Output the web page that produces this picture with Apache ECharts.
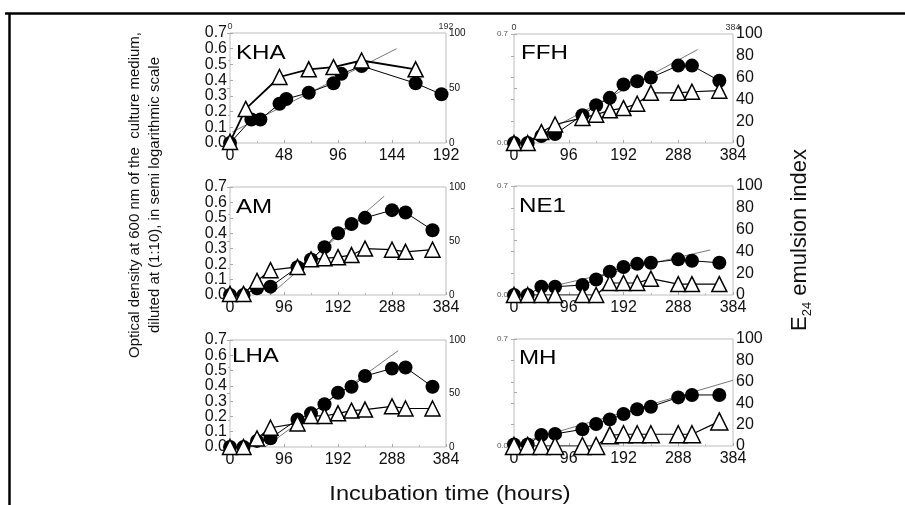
<!DOCTYPE html>
<html lang="en">
<head>
    <meta charset="UTF-8">
    <title>Growth and E24 emulsion index</title>
    <style>
        html, body {margin: 0; padding: 0; background: #fff;}
        #chart {width: 905px; height: 505px;}
    </style>
</head>
<body>
<div id="chart"></div>
<script src="https://cdn.jsdelivr.net/npm/echarts@6/dist/echarts.min.js"></script>
<script>
    // sampling times (hours)
    let hours = [0, 24, 48, 72, 120, 144, 168, 192, 216, 240, 288, 312, 360];

    // KHA has its own time points (0-192 h axis)
    let khaOdHours = [0, 19, 27, 44, 50, 70, 92, 99, 117, 165, 188];
    let khaOd = [0.0, 0.15, 0.15, 0.25, 0.28, 0.32, 0.38, 0.44, 0.49, 0.38, 0.31];
    let khaE24Hours = [0, 14, 44, 70, 92, 117, 165];
    let khaE24 = [1, 31, 60, 67, 69, 75, 67];
    let khaFit = [[2, 0.07], [148, 0.60]];

    let ffhOd = [0, 0, 0.045, 0.057, 0.178, 0.242, 0.29, 0.376, 0.397, 0.42, 0.497, 0.497, 0.40];
    let ffhE24 = [0, 0, 10, 17, 23, 26, 30, 32, 36, 46, 46, 47, 48];
    let ffhFit = [[70, 0.10], [322, 0.60]];

    let amOd = [0, 0, 0.043, 0.054, 0.18, 0.23, 0.31, 0.40, 0.46, 0.50, 0.55, 0.535, 0.42];
    let amE24 = [1, 1, 13, 23, 26, 33, 34, 35, 37, 43, 42, 40, 42];
    let amFit = [[71, 0.0], [274, 0.64]];

    let ne1Od = [0, 0, 0.053, 0.053, 0.064, 0.10, 0.15, 0.18, 0.20, 0.207, 0.229, 0.22, 0.207];
    let ne1E24 = [0, 0, 0, 0, 0, 0, 11, 11, 11, 15, 10, 10, 10];
    let ne1Fit = [[69, 0.058], [344, 0.289]];

    let lhaOd = [0, 0, 0.04, 0.057, 0.18, 0.22, 0.28, 0.355, 0.394, 0.464, 0.514, 0.52, 0.394];
    let lhaE24 = [0, 0, 8, 18, 22, 29, 29, 31.5, 34, 35, 38, 36, 36];
    let lhaFit = [[62, 0.0], [299, 0.63]];

    let mhOd = [0.01, 0.01, 0.072, 0.079, 0.109, 0.144, 0.174, 0.209, 0.24, 0.257, 0.318, 0.334, 0.334];
    let mhE24 = [0, 0, 0, 0, 0, 0, 10, 11, 11, 11, 11, 11, 23];
    let mhFit = [[28, 0.04], [384, 0.43]];

    // axis ranges and tick labels
    let odTicks = [0, 0.7];
    let e24Ticks = [0, 100];
    let odLabels = ['0.0', '0.1', '0.2', '0.3', '0.4', '0.5', '0.6', '0.7'];

    let FONT = '"Liberation Sans", Arial, sans-serif';

    let panels = [
        {name: 'KHA', box: [230, 33, 216, 110], xMax: 192, xStep: 48, col: 0, topLabels: true, tri: 15,
            odH: khaOdHours, od: khaOd, e24H: khaE24Hours, e24: khaE24, fit: khaFit, label: [236, 53]},
        {name: 'FFH', box: [514, 34, 219, 109], xMax: 384, xStep: 96, col: 1, topLabels: true, tri: 15,
            odH: hours, od: ffhOd, e24H: hours, e24: ffhE24, fit: ffhFit, label: [521, 53]},
        {name: 'AM', box: [230, 187, 216, 108], xMax: 384, xStep: 96, col: 0, topLabels: false, tri: 15,
            odH: hours, od: amOd, e24H: hours, e24: amE24, fit: amFit, label: [236, 207]},
        {name: 'NE1', box: [514, 186, 219, 109], xMax: 384, xStep: 96, col: 1, topLabels: false, tri: 15,
            odH: hours, od: ne1Od, e24H: hours, e24: ne1E24, fit: ne1Fit, label: [519, 206]},
        {name: 'LHA', box: [230, 340, 216, 107], xMax: 384, xStep: 96, col: 0, topLabels: false, tri: 15,
            odH: hours, od: lhaOd, e24H: hours, e24: lhaE24, fit: lhaFit, label: [232, 356]},
        {name: 'MH', box: [514, 339, 219, 107], xMax: 384, xStep: 96, col: 1, topLabels: false, tri: 17,
            odH: hours, od: mhOd, e24H: hours, e24: mhE24, fit: mhFit, label: [519, 358]}
    ];

    let grid = [], xAxis = [], yAxis = [], series = [], graphic = [];

    panels.forEach(function (p, i) {
        grid.push({
            left: p.box[0], top: p.box[1], width: p.box[2], height: p.box[3],
            show: true, borderColor: '#bdbdbd', borderWidth: 1, backgroundColor: 'transparent'
        });

        // bottom time axis
        xAxis.push({
            type: 'value', gridIndex: i, min: 0, max: p.xMax, interval: p.xStep,
            axisLine: {show: false}, splitLine: {show: false},
            axisTick: {show: true, inside: true, length: 3, lineStyle: {color: '#aaa'}},
            minorTick: {show: true, splitNumber: 2, length: 2, lineStyle: {color: '#bbb'}},
            axisLabel: {fontSize: 16, color: '#111', fontFamily: FONT, margin: 5, showMinLabel: true, showMaxLabel: true}
        });
        // top axis, only end labels on the first row
        xAxis.push({
            type: 'value', gridIndex: i, position: 'top', min: 0, max: p.xMax, interval: p.xMax,
            axisLine: {show: false}, splitLine: {show: false}, axisTick: {show: false},
            axisLabel: {show: p.topLabels, fontSize: 9, color: '#333', fontFamily: FONT, margin: 2}
        });

        let big = p.col === 0;
        // optical density axis (left); big labels come from the category axis below
        yAxis.push({
            type: 'value', gridIndex: i, min: odTicks[0], max: odTicks[1], interval: big ? 0.1 : 0.35,
            axisLine: {show: false}, splitLine: {show: false},
            axisTick: {show: true, inside: true, length: 3, lineStyle: {color: '#aaa'}},
            axisLabel: {
                show: !big, fontSize: 8, color: '#555', fontFamily: FONT, margin: 6,
                showMinLabel: true, showMaxLabel: true,
                formatter: function (v) {
                    if (v > 0.01 && v < 0.69) return '';
                    return v.toFixed(1);
                }
            }
        });
        // E24 axis (right)
        yAxis.push({
            type: 'value', gridIndex: i, position: 'right', min: e24Ticks[0], max: e24Ticks[1], interval: big ? 50 : 20,
            axisLine: {show: false}, splitLine: {show: false},
            axisTick: {show: true, inside: true, length: 3, lineStyle: {color: '#aaa'}},
            minorTick: {show: big, splitNumber: 2, length: 2, lineStyle: {color: '#bbb'}},
            axisLabel: {fontSize: big ? 10 : 16, color: '#111', fontFamily: FONT, margin: 3, showMinLabel: true, showMaxLabel: true}
        });
        // label-only axis so that all 0.0 ... 0.7 labels stay visible
        yAxis.push({
            type: 'category', gridIndex: i, position: 'left', data: odLabels, boundaryGap: false,
            show: big, axisLine: {show: false}, axisTick: {show: false}, splitLine: {show: false},
            axisLabel: {interval: 0, fontSize: 16, color: '#111', fontFamily: FONT, margin: 3}
        });

        let xi = i * 2, yi = i * 3;
        // straight fit line
        series.push({
            type: 'line', xAxisIndex: xi, yAxisIndex: yi, data: p.fit,
            symbol: 'none', silent: true,
            lineStyle: {color: '#555', width: 0.8}
        });
        // optical density, filled circles
        series.push({
            type: 'line', xAxisIndex: xi, yAxisIndex: yi,
            data: p.odH.map(function (h, k) { return [h, p.od[k]]; }),
            symbol: 'circle', symbolSize: 14,
            itemStyle: {color: '#000'},
            lineStyle: {color: '#000', width: 1}
        });
        // E24, open triangles
        series.push({
            type: 'line', xAxisIndex: xi, yAxisIndex: yi + 1,
            data: p.e24H.map(function (h, k) { return [h, p.e24[k]]; }),
            symbol: 'triangle', symbolSize: p.tri,
            itemStyle: {color: '#fff', borderColor: '#000', borderWidth: 1.5},
            lineStyle: {color: '#000', width: i === 0 ? 1.8 : 1.2}
        });

        graphic.push({
            type: 'text', x: p.label[0], y: p.label[1], scaleX: 1.15,
            style: {text: p.name, font: '21px ' + FONT, fill: '#000', align: 'left', verticalAlign: 'middle'}
        });
    });

    // frame
    graphic.push({type: 'line', shape: {x1: 5, y1: 13.5, x2: 905, y2: 13.5}, style: {stroke: '#000', lineWidth: 2.5}});
    graphic.push({type: 'line', shape: {x1: 9.5, y1: 13, x2: 9.5, y2: 505}, style: {stroke: '#000', lineWidth: 2.5}});

    // axis titles
    graphic.push({
        type: 'text', x: 145, y: 195, rotation: Math.PI / 2,
        style: {
            text: 'Optical density at 600 nm of the  culture medium,\ndiluted at (1:10), in semi logarithmic scale',
            font: '15px ' + FONT, fill: '#111', align: 'center', verticalAlign: 'middle', lineHeight: 20
        }
    });
    graphic.push({
        type: 'text', x: 800, y: 240, rotation: Math.PI / 2,
        style: {
            text: '{e|E}{s|24}{t| emulsion index}',
            align: 'center', verticalAlign: 'middle', fill: '#111',
            rich: {
                e: {font: '22px ' + FONT, fill: '#111', lineHeight: 28, verticalAlign: 'middle'},
                s: {font: '13px ' + FONT, fill: '#111', lineHeight: 28, verticalAlign: 'bottom', padding: [10, 0, 0, 0]},
                t: {font: '22px ' + FONT, fill: '#111', lineHeight: 28, verticalAlign: 'middle'}
            }
        }
    });
    graphic.push({
        type: 'text', x: 450, y: 494, scaleX: 1.18,
        style: {text: 'Incubation time (hours)', font: '20px ' + FONT, fill: '#111', align: 'center', verticalAlign: 'middle'}
    });

    let myChart = echarts.init(document.getElementById('chart'));
    myChart.setOption({
        animation: false,
        backgroundColor: '#fff',
        grid: grid,
        xAxis: xAxis,
        yAxis: yAxis,
        series: series,
        graphic: graphic
    });
</script>
</body>
</html>
